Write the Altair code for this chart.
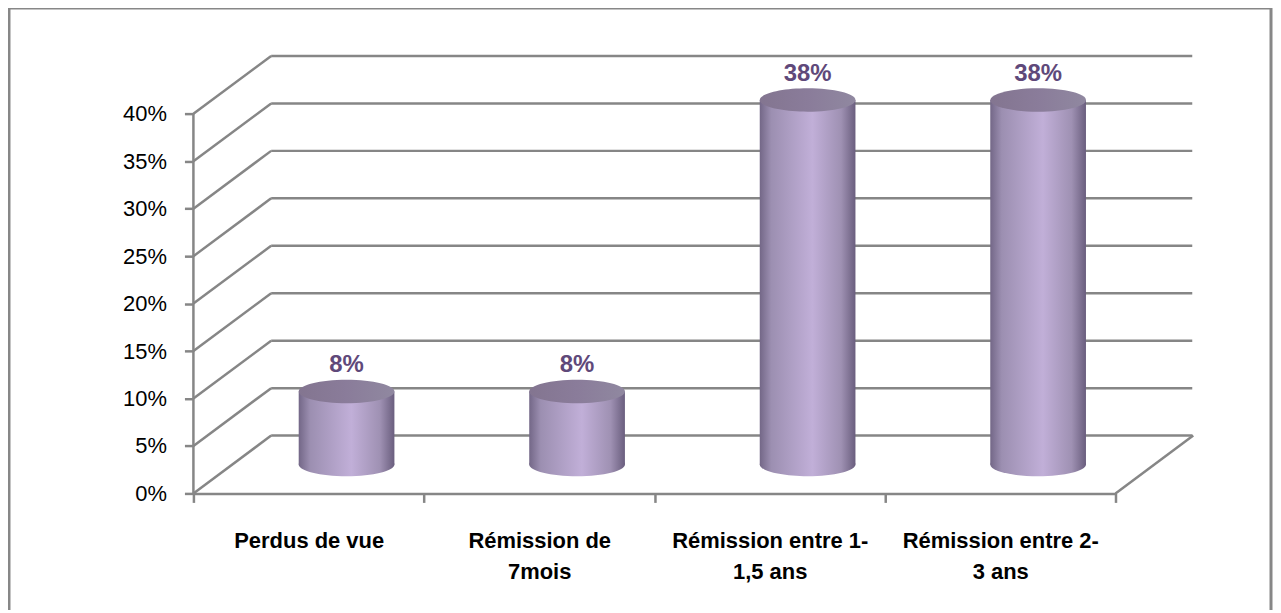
import altair as alt
import pandas as pd

categories = ["Perdus de vue", "Rémission de|7mois", "Rémission entre 1-|1,5 ans", "Rémission entre 2-|3 ans"]
values = [0.077, 0.077, 0.384, 0.384]
tick_values = [0.0, 0.05, 0.10, 0.15, 0.20, 0.25, 0.30, 0.35, 0.40]

bars = pd.DataFrame({"cat": categories, "value": values})
ticks = pd.DataFrame({"v": tick_values})
axis_df = pd.DataFrame({"lo": [0.0], "hi": [max(tick_values)]})

GRID = "#868686"
DX, DY = 78, -58          # depth of the 3D box
CX, CY = 38, -29          # cylinders sit mid-depth
BW = 96                   # cylinder width

x_scale = alt.Scale(domain=categories, range=[0, 925], paddingInner=0, paddingOuter=0)
y_scale = alt.Scale(domain=[0, 0.48], nice=False)

ellipse = ("M -1 0 C -1 -0.135 -0.552 -0.245 0 -0.245 C 0.552 -0.245 1 -0.135 1 0 "
           "C 1 0.135 0.552 0.245 0 0.245 C -0.552 0.245 -1 0.135 -1 0 Z")

side_grad = {
    "gradient": "linear", "x1": 0, "y1": 0, "x2": 1, "y2": 0,
    "stops": [
        {"offset": 0.0, "color": "#736787"},
        {"offset": 0.12, "color": "#9C8FB1"},
        {"offset": 0.55, "color": "#C1AFD8"},
        {"offset": 0.85, "color": "#9F91B3"},
        {"offset": 1.0, "color": "#6A5E7E"},
    ],
}
top_grad = {
    "gradient": "linear", "x1": 0, "y1": 0, "x2": 1, "y2": 0,
    "stops": [
        {"offset": 0.0, "color": "#837590"},
        {"offset": 0.5, "color": "#8A7C9A"},
        {"offset": 1.0, "color": "#9088A0"},
    ],
}

# outer frame
frame = alt.Chart(axis_df).mark_rect(
    fillOpacity=0, stroke="#878787", strokeWidth=3, clip=False
).encode(x=alt.value(-185), x2=alt.value(1081), y=alt.value(-30), y2=alt.value(650))

# back wall gridlines
back = alt.Chart(ticks).mark_rule(color=GRID, strokeWidth=2.5, yOffset=DY).encode(
    x=alt.value(DX), x2=alt.value(1002),
    y=alt.Y("v:Q", scale=y_scale),
)
# side wall diagonals
diag = alt.Chart(ticks).mark_rule(color=GRID, strokeWidth=2.5, y2Offset=DY).encode(
    x=alt.value(0), x2=alt.value(DX),
    y=alt.Y("v:Q", scale=y_scale), y2="v:Q",
)
# right floor edge
floor_r = alt.Chart(axis_df).mark_rule(color=GRID, strokeWidth=2.5, y2Offset=DY).encode(
    x=alt.value(925), x2=alt.value(925 + DX),
    y=alt.Y("lo:Q", scale=y_scale), y2="lo:Q",
)
# value axis line
yline = alt.Chart(axis_df).mark_rule(color=GRID, strokeWidth=2.5).encode(
    x=alt.value(0), y=alt.Y("lo:Q", scale=y_scale), y2="hi:Q",
)

enc_x = alt.X(
    "cat:N", scale=x_scale, sort=categories, title=None,
    axis=alt.Axis(
        labelAngle=0, tickBand="extent", tickSize=9, tickWidth=2.5, tickColor=GRID,
        domainColor=GRID, domainWidth=2.5, labelFont="Liberation Sans",
        labelFontSize=22, labelFontWeight="bold", labelColor="#000000",
        labelPadding=28, labelLineHeight=31, labelBaseline="top", labelAlign="center",
        labelLimit=0, labelExpr="split(datum.label, '|')", grid=False,
    ),
)
enc_y = alt.Y(
    "value:Q", scale=y_scale, title=None,
    axis=alt.Axis(
        values=tick_values, format=".0%", domain=False, grid=False,
        tickSize=9, tickWidth=2.5, tickColor=GRID, labelFont="Liberation Sans",
        labelFontSize=22, labelColor="#000000", labelPadding=18,
    ),
)

base = alt.Chart(bars)

bottom = base.transform_calculate(zero="0").mark_point(
    shape=ellipse, size=BW * BW, filled=True, fill=side_grad, strokeWidth=0,
    opacity=1, xOffset=CX, yOffset=CY,
).encode(x=alt.X("cat:N", scale=x_scale, sort=categories), y=alt.Y("zero:Q", scale=y_scale))

body = base.mark_bar(
    width=BW, fill=side_grad, xOffset=CX, yOffset=CY, y2Offset=CY,
).encode(x=enc_x, y=enc_y, y2=alt.datum(0))

top = base.mark_point(
    shape=ellipse, size=BW * BW, filled=True, fill=top_grad, strokeWidth=0,
    opacity=1, xOffset=CX, yOffset=CY,
).encode(x=alt.X("cat:N", scale=x_scale, sort=categories), y=alt.Y("value:Q", scale=y_scale))

labels = base.mark_text(
    font="Liberation Sans", fontSize=24, fontWeight="bold", color="#5F497A",
    dx=CX, dy=CY - 26, baseline="middle", align="center",
).encode(
    x=alt.X("cat:N", scale=x_scale, sort=categories),
    y=alt.Y("value:Q", scale=y_scale),
    text=alt.Text("value:Q", format=".0%"),
)

chart = alt.layer(frame, back, diag, floor_r, yline, bottom, body, top, labels).properties(
    width=1002, height=457,
    padding={"left": 186, "top": 29, "right": 81, "bottom": 116},
    autosize=alt.AutoSizeParams(type="none"),
    background="#ffffff",
).configure_view(stroke=None)

chart.save("out.html", embed_options={"renderer": "svg", "actions": False})
